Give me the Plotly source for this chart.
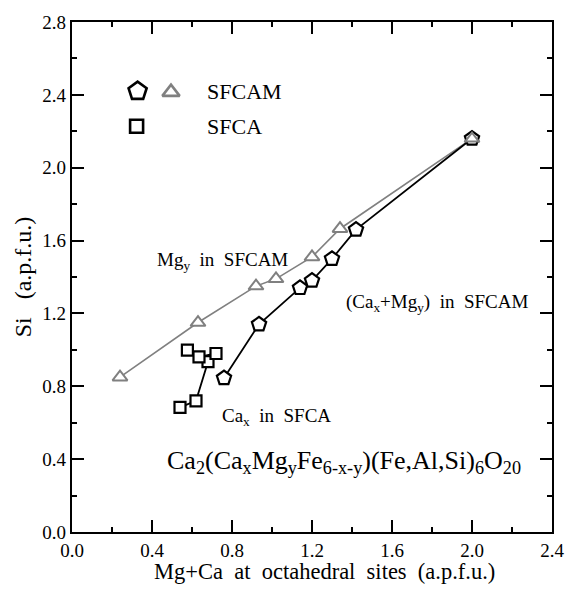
import plotly.graph_objects as go

# Data
sfcam_mg_x = [0.24, 0.63, 0.92, 1.02, 1.20, 1.34, 2.00]
sfcam_mg_y = [0.85, 1.15, 1.35, 1.39, 1.51, 1.665, 2.16]

sfcam_camg_x = [0.76, 0.935, 1.14, 1.20, 1.30, 1.42, 2.00]
sfcam_camg_y = [0.845, 1.14, 1.34, 1.38, 1.50, 1.66, 2.16]

sfca_x = [0.54, 0.62, 0.68, 0.72, 0.635, 0.577]
sfca_y = [0.684, 0.72, 0.935, 0.98, 0.962, 0.998]

x_ticks = [0.0, 0.4, 0.8, 1.2, 1.6, 2.0, 2.4]
y_ticks = [0.0, 0.4, 0.8, 1.2, 1.6, 2.0, 2.4, 2.8]

FONT = "Liberation Serif, Times New Roman, serif"
GRAY = "#808080"

fig = go.Figure()

fig.add_trace(go.Scatter(
    x=sfcam_mg_x, y=sfcam_mg_y, mode="lines+markers",
    line=dict(color=GRAY, width=1.6),
    marker=dict(symbol="triangle-up", size=13, color="white",
                line=dict(color=GRAY, width=2)),
    showlegend=False))

fig.add_trace(go.Scatter(
    x=sfcam_camg_x, y=sfcam_camg_y, mode="lines+markers",
    line=dict(color="black", width=1.8),
    marker=dict(symbol="pentagon", size=15, color="white",
                line=dict(color="black", width=2.2)),
    showlegend=False))

fig.add_trace(go.Scatter(
    x=sfca_x, y=sfca_y, mode="lines+markers",
    line=dict(color="black", width=1.8),
    marker=dict(symbol="square", size=11, color="white",
                line=dict(color="black", width=2.2)),
    showlegend=False))

# top overlapping point: triangle drawn over the pentagon
fig.add_trace(go.Scatter(
    x=[sfcam_mg_x[-1]], y=[sfcam_mg_y[-1]], mode="markers",
    marker=dict(symbol="triangle-up", size=12, color="white",
                line=dict(color=GRAY, width=2)),
    showlegend=False))

# legend glyphs (custom layout, as in reference)
fig.add_trace(go.Scatter(
    x=[0.328], y=[2.42], mode="markers",
    marker=dict(symbol="pentagon", size=19, color="white",
                line=dict(color="black", width=2.6)),
    showlegend=False))
fig.add_trace(go.Scatter(
    x=[0.495], y=[2.415], mode="markers",
    marker=dict(symbol="triangle-up", size=15, color="white",
                line=dict(color=GRAY, width=2.6)),
    showlegend=False))
fig.add_trace(go.Scatter(
    x=[0.323], y=[2.228], mode="markers",
    marker=dict(symbol="square", size=13, color="white",
                line=dict(color="black", width=2.6)),
    showlegend=False))

ann = [
    dict(x=0.665, y=2.42, text="SFCAM", size=22, xanchor="left"),
    dict(x=0.665, y=2.228, text="SFCA", size=22, xanchor="left"),
    dict(x=0.415, y=1.49, text="Mg<sub>y</sub>\u00a0\u00a0in\u00a0\u00a0SFCAM", size=19, xanchor="left"),
    dict(x=1.36, y=1.26, text="(Ca<sub>x</sub>+Mg<sub>y</sub>)\u00a0\u00a0in\u00a0\u00a0SFCAM", size=19, xanchor="left"),
    dict(x=0.74, y=0.63, text="Ca<sub>x</sub>\u00a0\u00a0in\u00a0\u00a0SFCA", size=19, xanchor="left"),
    dict(x=1.36, y=0.385,
         text="Ca<sub>2</sub>(Ca<sub>x</sub>Mg<sub>y</sub>Fe<sub>6-x-y</sub>)(Fe,Al,Si)<sub>6</sub>O<sub>20</sub>",
         size=26, xanchor="center"),
]
for a in ann:
    fig.add_annotation(x=a["x"], y=a["y"], text=a["text"], showarrow=False,
                       xanchor=a["xanchor"], yanchor="middle",
                       font=dict(family=FONT, size=a["size"], color="black"))

# x-axis title, placed as in the reference (slightly right of centre)
fig.add_annotation(
    xref="paper", yref="paper", x=0.527, y=-0.077, showarrow=False,
    xanchor="center", yanchor="middle",
    text="Mg+Ca\u00a0\u00a0at\u00a0\u00a0octahedral\u00a0\u00a0sites\u00a0\u00a0(a.p.f.u.)",
    font=dict(family=FONT, size=22.5, color="black"))

axis_common = dict(
    showgrid=False, zeroline=False, showline=True, linecolor="black",
    linewidth=2.2, mirror="ticks", ticks="inside", ticklen=12, tickwidth=2,
    tickcolor="black", tickfont=dict(family=FONT, size=19, color="black"),
    ticklabeloverflow="allow",
)

fig.update_xaxes(
    range=[0, 2.4], tickvals=x_ticks, ticktext=[f"{v:.1f}" for v in x_ticks],
    minor=dict(ticks="inside", ticklen=5, tickwidth=2, dtick=0.2, tickcolor="black"),
    **axis_common)
fig.update_yaxes(
    range=[0, 2.8], tickvals=y_ticks, ticktext=[f"{v:.1f}" for v in y_ticks],
    minor=dict(ticks="inside", ticklen=5, tickwidth=2, dtick=0.2, tickcolor="black"),
    title=dict(text="Si\u00a0\u00a0\u00a0(a.p.f.u.)",
               font=dict(family=FONT, size=24, color="black"), standoff=4),
    **axis_common)

fig.update_layout(
    width=576, height=591,
    margin=dict(l=72, r=24, t=12, b=59),
    font=dict(family=FONT, color="black"),
    plot_bgcolor="white", paper_bgcolor="white",
)

# remove the browser's default 8px page margin so the figure sits at (0, 0)
fig.write_html("out.html", config={"displayModeBar": False},
               post_script="document.body.style.margin='0px';")
